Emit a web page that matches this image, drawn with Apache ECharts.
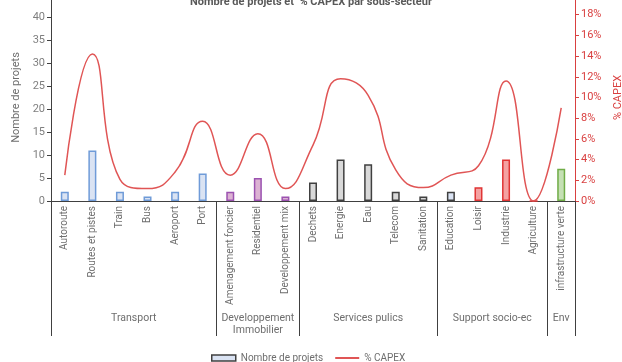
<!DOCTYPE html>
<html>
<head>
<meta charset="utf-8">
<script src="https://cdn.jsdelivr.net/npm/echarts@6/dist/echarts.min.js"></script>
<style>html,body{margin:0;padding:0;background:#fff;}#c{width:622px;height:362px;}</style>
</head>
<body>
<div id="c"></div>
<script>
const categories = ['Autoroute','Routes et pistes','Train','Bus','Aeroport','Port',
  'Amenagement foncier','Residentiel','Developpement mix',
  'Dechets','Energie','Eau','Telecom','Sanitation',
  'Education','Loisir','Industrie','Agriculture',
  'infrastructure verte'];
const projects = [2, 11, 2, 1, 2, 6, 2, 5, 1, 4, 9, 8, 2, 1, 2, 3, 9, 0, 7];
const capex = [2.5, 14.2, 2.1, 1.2, 2.8, 7.7, 2.5, 6.5, 1.2, 5.4, 11.8, 10.2, 3.0, 1.3, 2.5, 3.4, 11.6, 0, 9.0];
const groups = ['Transport', 'Developpement\nImmobilier', 'Services pulics', 'Support socio-ec', 'Env'];
const groupSizes = [6, 3, 5, 4, 1];
const leftTicks = [0, 45, 5];
const rightTicks = [0, 20, 2];

// styles per category (not data)
const barStyles = [
  ['#dae3f3','#6f9bd8'],['#dae3f3','#6f9bd8'],['#dae3f3','#6f9bd8'],['#dae3f3','#6f9bd8'],['#dae3f3','#6f9bd8'],['#dae3f3','#6f9bd8'],
  ['#dcb2d3','#9b52b0'],['#dcb2d3','#9b52b0'],['#dcb2d3','#9b52b0'],
  ['#d9d9d9','#404040'],['#d9d9d9','#404040'],['#d9d9d9','#404040'],['#d9d9d9','#404040'],['#d9d9d9','#404040'],
  ['#dae3f3','#404040'],['#f4a2a2','#e03535'],['#f4a2a2','#e03535'],['#f4a2a2','#e03535'],
  ['#c5e0b4','#70ad47']
];

// group axis: half-category points (boundaryGap false), 2*n+1 points
const n = categories.length;
const groupAxisData = new Array(2 * n + 1).fill('');
const boundaryIdx = [0];
let acc = 0;
groups.forEach((g, i) => {
  const center = acc * 2 + groupSizes[i];
  groupAxisData[center] = g;
  acc += groupSizes[i];
  boundaryIdx.push(acc * 2);
});
const labelIdx = new Set();
groupAxisData.forEach((v, i) => { if (v) labelIdx.add(i); });

const chart = echarts.init(document.getElementById('c'), null, {renderer: 'canvas'});
const FONT = 'Roboto';
const GRAY = '#6e6e6e';
const option = {
  animation: false,
  textStyle: {fontFamily: FONT},
  title: {
    text: 'Nombre de projets et  % CAPEX par sous-secteur',
    left: 'center', top: -8,
    textStyle: {fontFamily: FONT, fontSize: 11, fontWeight: 'bold', color: '#595959'}
  },
  grid: {left: 51, right: 47, top: -6, bottom: 161, containLabel: false, outerBoundsMode: 'none'},
  legend: {
    left: 206, top: 348,
    itemWidth: 24, itemHeight: 6, itemGap: 12,
    textStyle: {fontFamily: FONT, fontSize: 10, color: GRAY},
    data: [
      {name: 'Nombre de projets', icon: 'rect', itemStyle: {color: '#dae3f3', borderColor: '#404040', borderWidth: 1.5}},
      {name: '% CAPEX', icon: 'path://M0,0L24,0L24,2L0,2Z', itemStyle: {color: '#e05555'}}
    ]
  },
  xAxis: [
    {
      type: 'category', data: categories, position: 'bottom',
      axisLine: {lineStyle: {color: '#404040', width: 1}},
      axisTick: {show: false},
      axisLabel: {rotate: 90, interval: 0, fontSize: 10, color: GRAY, margin: 5, fontFamily: FONT}
    },
    {
      type: 'category', data: groupAxisData, position: 'bottom', boundaryGap: false,
      axisLine: {show: false},
      axisTick: {show: true, length: 135, interval: (i) => boundaryIdx.indexOf(i) >= 0,
        lineStyle: {color: '#404040', width: 1}},
      axisLabel: {interval: (i) => labelIdx.has(i), margin: 111, fontSize: 10.5, lineHeight: 12,
        color: GRAY, fontFamily: FONT, align: 'center'}
    }
  ],
  yAxis: [
    {
      type: 'value', min: leftTicks[0], max: leftTicks[1], interval: leftTicks[2],
      name: 'Nombre de projets', nameLocation: 'middle', nameGap: 24,
      nameTextStyle: {fontSize: 11, color: GRAY, fontFamily: FONT},
      axisLine: {show: true, lineStyle: {color: '#404040'}},
      axisTick: {show: true, length: 4, lineStyle: {color: '#404040'}},
      axisLabel: {fontSize: 11, color: '#7f7f7f', margin: 6, showMaxLabel: false},
      splitLine: {show: false}
    },
    {
      type: 'value', min: rightTicks[0], max: rightTicks[1], interval: rightTicks[2],
      name: '% CAPEX', nameLocation: 'middle', nameGap: 29, nameRotate: 90,
      nameTextStyle: {fontSize: 11, color: '#d94040', fontFamily: FONT},
      position: 'right',
      axisLine: {show: true, lineStyle: {color: '#d94040'}},
      axisTick: {show: true, length: 4, lineStyle: {color: '#d94040'}},
      axisLabel: {fontSize: 11, color: '#d94040', margin: 6, formatter: '{value}%', showMaxLabel: false},
      splitLine: {show: false}
    }
  ],
  series: [
    {
      name: 'Nombre de projets', type: 'bar', xAxisIndex: 0, yAxisIndex: 0,
      barWidth: 8,
      itemStyle: {color: '#dae3f3', borderColor: '#404040', borderWidth: 1.5},
      data: projects.map((v, i) => ({value: v, itemStyle: {color: barStyles[i][0], borderColor: barStyles[i][1], borderWidth: 1.5}}))
    },
    {
      name: '% CAPEX', type: 'line', xAxisIndex: 0, yAxisIndex: 1,
      data: capex, smooth: 0.5, symbol: 'none',
      lineStyle: {color: '#e05555', width: 1.5},
      itemStyle: {color: '#e05555'}
    }
  ]
};
chart.setOption(option);
</script>
</body>
</html>
